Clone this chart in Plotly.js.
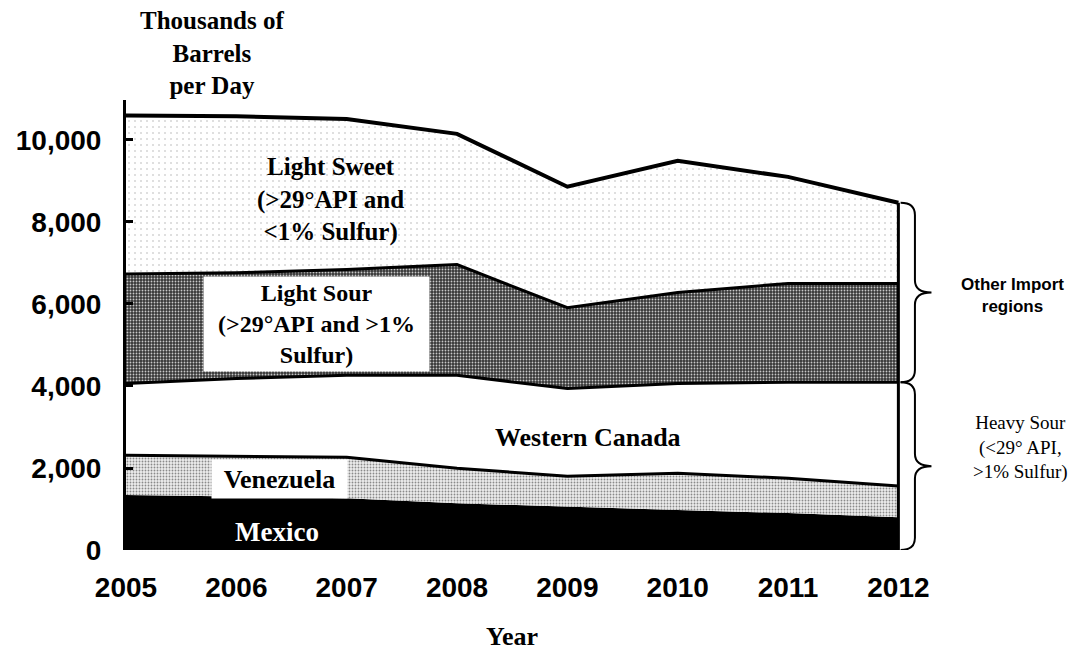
<!DOCTYPE html>
<html>
<head>
<meta charset="utf-8">
<script src="https://cdn.plot.ly/plotly-3.0.1.min.js"></script>
<style>html,body{margin:0;padding:0;background:#fff;}#chart{width:1083px;height:656px;}</style>
</head>
<body>
<div id="chart"></div>
<script>
// ---- data (thousands of barrels per day) ----
var years = [2005, 2006, 2007, 2008, 2009, 2010, 2011, 2012];
var mexico        = [1340, 1310, 1265, 1140, 1050, 975, 900, 800];
var venezuela     = [970, 980, 995, 855, 750, 895, 850, 760];
var westernCanada = [1750, 1890, 2000, 2265, 2140, 2190, 2340, 2530];
var lightSour     = [2670, 2580, 2580, 2700, 1970, 2220, 2410, 2410];
var lightSweet    = [3870, 3820, 3670, 3190, 2950, 3210, 2600, 1970];
var yTicks = [0, 2000, 4000, 6000, 8000, 10000];

var SERIF = 'Liberation Serif, Times New Roman, serif';
var SANS = 'Liberation Sans, Arial, sans-serif';

var X_RANGE = [2005, 2012.35];
var Y_RANGE = [0, 10975];

function layer(name, vals, lineW, pattern) {
  return {
    type: 'scatter', mode: 'lines', name: name, x: years, y: vals,
    stackgroup: 'one',
    line: {color: '#000', width: lineW, shape: 'linear'},
    fillcolor: pattern.bgcolor,
    fillpattern: pattern,
    hoverinfo: 'skip'
  };
}

var traces = [
  layer('Mexico', mexico, 0, {shape: '', bgcolor: '#000', fgcolor: '#000', fillmode: 'replace'}),
  layer('Venezuela', venezuela, 3, {shape: '.', bgcolor: '#ededed', fgcolor: '#8a8a8a', size: 3, solidity: 0.3, fillmode: 'replace'}),
  layer('Western Canada', westernCanada, 3, {shape: '', bgcolor: '#ffffff', fgcolor: '#ffffff', fillmode: 'replace'}),
  layer('Light Sour', lightSour, 3, {shape: '.', bgcolor: '#363636', fgcolor: '#c8c8c8', size: 3, solidity: 0.3, fillmode: 'replace'}),
  layer('Light Sweet', lightSweet, 4, {shape: '.', bgcolor: '#ffffff', fgcolor: '#a8a8a8', size: 6, solidity: 0.04, fillmode: 'replace'})
];

// cumulative boundaries at last year (for the closing line and braces)
var n = years.length - 1;
var lastX = years[n];
var cumWC = mexico[n] + venezuela[n] + westernCanada[n];
var cumTop = cumWC + lightSour[n] + lightSweet[n];

function brace(yTop, yBot) {
  var x0 = lastX + 0.02, x1 = lastX + 0.15, xt = lastX + 0.30;
  var c = 300; // curl height in value units
  var mid = (yTop + yBot) / 2;
  return 'M ' + x0 + ',' + yTop +
    ' Q ' + x1 + ',' + yTop + ' ' + x1 + ',' + (yTop - c) +
    ' L ' + x1 + ',' + (mid + c) +
    ' Q ' + x1 + ',' + mid + ' ' + xt + ',' + mid +
    ' Q ' + x1 + ',' + mid + ' ' + x1 + ',' + (mid - c) +
    ' L ' + x1 + ',' + (yBot + c) +
    ' Q ' + x1 + ',' + yBot + ' ' + x0 + ',' + yBot;
}

var shapes = [
  {type: 'line', xref: 'x', yref: 'y', x0: lastX, x1: lastX, y0: 0, y1: cumTop, line: {color: '#000', width: 3}},
  {type: 'path', xref: 'x', yref: 'y', path: brace(cumTop, cumWC), line: {color: '#000', width: 2}},
  {type: 'path', xref: 'x', yref: 'y', path: brace(cumWC, 0), line: {color: '#000', width: 2}}
];

function lab(text, x, y, size, color, extra) {
  var a = {text: text, x: x, y: y, xref: 'x', yref: 'y', showarrow: false,
    font: {family: SERIF, size: size, color: color || '#000', weight: 'bold'},
    xanchor: 'center', yanchor: 'middle', align: 'center'};
  for (var k in extra) a[k] = extra[k];
  return a;
}
// paper coordinates for labels outside the x range
function px(xv) { return (xv - X_RANGE[0]) / (X_RANGE[1] - X_RANGE[0]); }
function py(yv) { return (yv - Y_RANGE[0]) / (Y_RANGE[1] - Y_RANGE[0]); }

var annotations = [
  lab('Light Sweet<br>(&gt;29°API and<br>&lt;1% Sulfur)', 2006.85, 8560, 25),
  lab('Light Sour<br>(&gt;29°API and &gt;1%<br>Sulfur)', 2006.73, 5512, 24, '#000', {bgcolor: '#fff', width: 221, height: 90, borderpad: 2}),
  lab('Western Canada', 2009.19, 2732, 26),
  lab('Venezuela', 2006.39, 1732, 26, '#000', {bgcolor: '#fff', width: 131, height: 34, borderpad: 2}),
  lab('Mexico', 2006.37, 439, 27, '#fff'),
  {text: 'Thousands of<br>Barrels<br>per Day', xref: 'paper', yref: 'paper', x: 0.106, y: 1.104,
   showarrow: false, xanchor: 'center', yanchor: 'middle', align: 'center',
   font: {family: SERIF, size: 25, color: '#000', weight: 'bold'}},
  {text: 'Year', xref: 'x', yref: 'paper', x: 2008.5, y: -0.193, showarrow: false,
   xanchor: 'center', yanchor: 'middle', font: {family: SERIF, size: 26, color: '#000', weight: 'bold'}},
  {text: 'Other Import<br>regions', xref: 'paper', yref: 'paper', x: px(2013.03), y: py(6195), showarrow: false,
   xanchor: 'center', yanchor: 'middle', align: 'center',
   font: {family: SANS, size: 17, color: '#000', weight: 'bold'}},
  {text: 'Heavy Sour<br>(&lt;29° API,<br>&gt;1% Sulfur)', xref: 'paper', yref: 'paper', x: px(2013.11), y: py(2490), showarrow: false,
   xanchor: 'center', yanchor: 'middle', align: 'center',
   font: {family: SERIF, size: 19, color: '#000'}}
];

var layout = {
  width: 1083, height: 656,
  margin: {l: 126, r: 146, t: 100, b: 106, pad: 0},
  paper_bgcolor: '#fff', plot_bgcolor: 'rgba(0,0,0,0)',
  showlegend: false,
  xaxis: {
    range: X_RANGE, tickvals: years, ticktext: years.map(String),
    showgrid: false, zeroline: false, showline: false, ticks: '',
    tickfont: {family: SANS, size: 28, color: '#000', weight: 'bold'},
    ticklabelstandoff: 18
  },
  yaxis: {
    range: Y_RANGE, tickvals: yTicks, tickformat: ',d',
    showgrid: false, zeroline: false, showline: true, linecolor: '#000', linewidth: 3,
    ticks: 'inside', ticklen: 7, tickwidth: 3, tickcolor: '#000',
    tickfont: {family: SANS, size: 28, color: '#000', weight: 'bold'},
    ticklabelstandoff: 16
  },
  shapes: shapes,
  annotations: annotations
};

Plotly.newPlot('chart', traces, layout, {displayModeBar: false, staticPlot: true});
</script>
</body>
</html>
